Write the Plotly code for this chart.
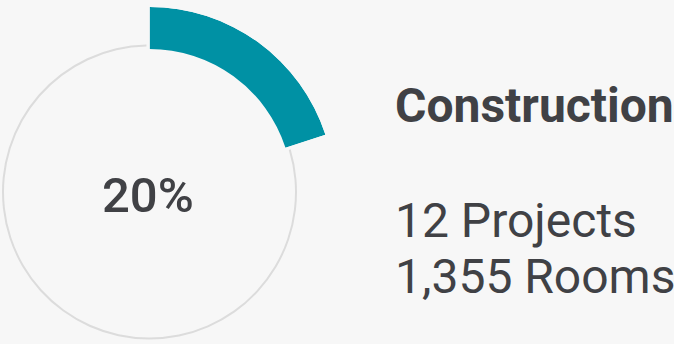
import plotly.graph_objects as go

# Progress ring: share of projects in the Construction stage
category = "Construction"
share_pct = 20
project_count = 12
room_count = 1355

W, H = 674, 344
BG = "#f7f7f7"
TEAL = "#0091a4"
RING = "#dcdcdc"
TEXT = "#404145"

# ring geometry (pixels)
cx, cy = 149.5, 192.0
ring_r, ring_w = 146.5, 2.0
arc_in, arc_out = 143.0, 185.0
gap_deg = 1.2

arc_deg = share_pct / 100 * 360

fig = go.Figure()

# teal progress arc, in a sector-limited polar subplot so it can extend beyond the ring
fig.add_trace(go.Barpolar(
    subplot="polar",
    theta=[arc_deg / 2], width=[arc_deg],
    base=[arc_in], r=[arc_out - arc_in],
    marker=dict(color=TEAL, line=dict(width=0)),
    hoverinfo="skip", showlegend=False,
))

# light gray remainder ring
rest_start = arc_deg + gap_deg
rest_end = 360 - gap_deg
fig.add_trace(go.Barpolar(
    subplot="polar2",
    theta=[(rest_start + rest_end) / 2], width=[rest_end - rest_start],
    base=[ring_r - ring_w / 2], r=[ring_w],
    marker=dict(color=RING, line=dict(width=0)),
    hoverinfo="skip", showlegend=False,
))

hidden_radial = dict(visible=False, showgrid=False, showline=False, showticklabels=False, ticks="")
hidden_angular = dict(visible=False, showgrid=False, showline=False, showticklabels=False, ticks="",
                      rotation=90, direction="clockwise")

# sector [90 - arc, 90] bbox spans x: 0..cos(90-arc), y: 0..1 in radius units
import math
sx = math.cos(math.radians(90 - arc_deg))
polar_dom = dict(x=[cx / W, (cx + sx * arc_out) / W],
                 y=[(H - cy) / H, (H - cy + arc_out) / H])
r2 = 149.0
polar2_dom = dict(x=[(cx - r2) / W, (cx + r2) / W],
                  y=[(H - cy - r2) / H, (H - cy + r2) / H])

fig.update_layout(
    width=W, height=H,
    margin=dict(l=0, r=0, t=0, b=0),
    paper_bgcolor=BG, plot_bgcolor=BG,
    font=dict(family="Roboto", color=TEXT),
    polar=dict(domain=polar_dom, sector=[90 - arc_deg, 90], bgcolor="rgba(0,0,0,0)",
               radialaxis=dict(range=[0, arc_out], **hidden_radial),
               angularaxis=hidden_angular, bargap=0),
    polar2=dict(domain=polar2_dom, bgcolor="rgba(0,0,0,0)",
                radialaxis=dict(range=[0, r2], **hidden_radial),
                angularaxis=hidden_angular, bargap=0),
)

def px(x, y):
    return dict(x=x / W, y=(H - y) / H, xref="paper", yref="paper")

fig.add_annotation(text=f"{share_pct}%", **px(148, 195), xanchor="center", yanchor="middle",
                   showarrow=False, font=dict(size=49, weight=500, color=TEXT))
fig.add_annotation(text=category, **px(393, 105), xanchor="left", yanchor="middle",
                   showarrow=False, font=dict(size=48, weight=700, color=TEXT))
fig.add_annotation(text=f"{project_count} Projects", **px(393, 220), xanchor="left", yanchor="middle",
                   showarrow=False, font=dict(size=48, color=TEXT))
fig.add_annotation(text=f"{room_count:,} Rooms", **px(393, 276.5), xanchor="left", yanchor="middle",
                   showarrow=False, font=dict(size=48, color=TEXT))

fig.write_html("out.html")
